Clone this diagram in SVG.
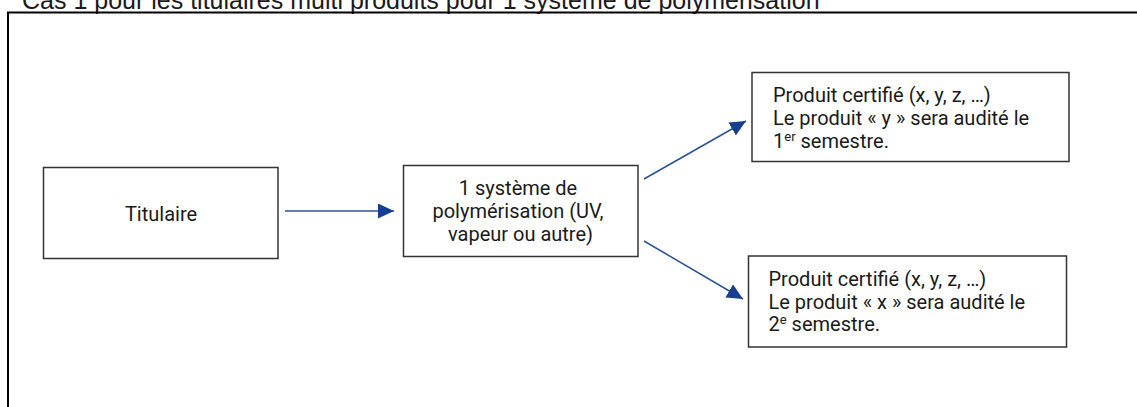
<svg xmlns="http://www.w3.org/2000/svg" width="1137" height="407" viewBox="0 0 1137 407">
  <style>
    .box { fill: #ffffff; stroke: #333333; stroke-width: 1.5; }
    .t { font-family: Roboto, "Liberation Sans", sans-serif; font-size: 20px; fill: #1a1a1a; }
    .title { font-family: "Liberation Sans", Arial, sans-serif; font-size: 25px; fill: #1a1a1a; }
    .conn { stroke: #2a5298; stroke-width: 1.5; fill: none; }
  </style>
  <defs>
    <marker id="ah" markerUnits="userSpaceOnUse" markerWidth="18" markerHeight="16" refX="16" refY="7.5" orient="auto">
      <path d="M0,0 L16,7.5 L0,15 Z" fill="#163f8f"/>
    </marker>
  </defs>
  <rect width="1137" height="407" fill="#ffffff"/>
  <text class="title" x="22" y="9">Cas 1 pour les titulaires multi produits pour 1 système de polymérisation</text>
  <path d="M8,407 V12.5 H1137" fill="none" stroke="#000000" stroke-width="2"/>

  <g id="titulaire">
    <rect class="box" x="43.5" y="167.5" width="234.5" height="91"/>
    <text class="t" x="161" y="220.5" text-anchor="middle">Titulaire</text>
  </g>

  <g id="systeme">
    <rect class="box" x="403.5" y="165.5" width="234.5" height="91"/>
    <text class="t" text-anchor="middle">
      <tspan x="520.5" y="195">1 système de</tspan>
      <tspan x="520.5" y="218">polymérisation (UV,</tspan>
      <tspan x="520.5" y="241">vapeur ou autre)</tspan>
    </text>
  </g>

  <g id="produit-y">
    <rect class="box" x="752" y="72.5" width="317" height="89"/>
    <text class="t">
      <tspan x="773" y="102">Produit certifié (x, y, z, …)</tspan>
      <tspan x="773" y="125">Le produit « y » sera audité le</tspan>
      <tspan x="773" y="147.5">1</tspan><tspan font-size="13" dy="-7">er</tspan><tspan dy="7"> semestre.</tspan>
    </text>
  </g>

  <g id="produit-x">
    <rect class="box" x="748.5" y="256" width="318" height="91"/>
    <text class="t">
      <tspan x="768.5" y="286">Produit certifié (x, y, z, …)</tspan>
      <tspan x="768.5" y="308.5">Le produit « x » sera audité le</tspan>
      <tspan x="768.5" y="331">2</tspan><tspan font-size="13" dy="-7">e</tspan><tspan dy="7"> semestre.</tspan>
    </text>
  </g>

  <g id="connectors">
    <line class="conn" x1="285" y1="211" x2="394" y2="211" marker-end="url(#ah)"/>
    <line class="conn" x1="644" y1="179" x2="746" y2="121" marker-end="url(#ah)"/>
    <line class="conn" x1="644" y1="241" x2="743" y2="299" marker-end="url(#ah)"/>
  </g>
</svg>
